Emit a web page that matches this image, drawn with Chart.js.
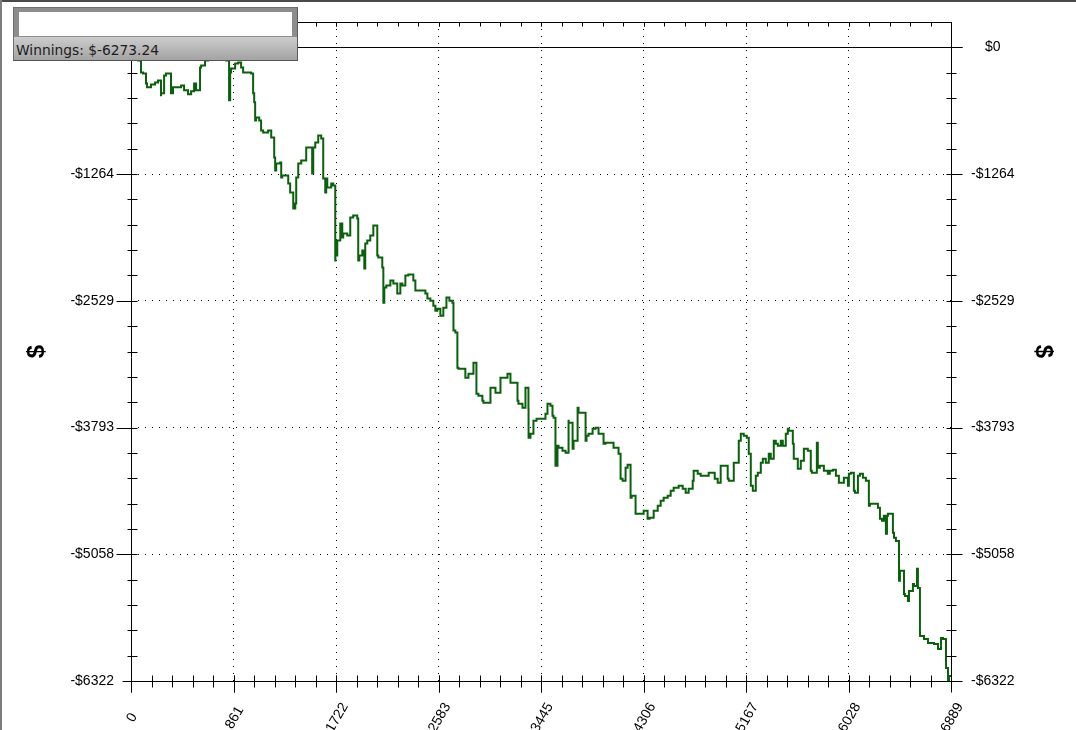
<!DOCTYPE html>
<html>
<head>
<meta charset="utf-8">
<title>Winnings</title>
<script src="https://cdn.jsdelivr.net/npm/chart.js@4.4.1/dist/chart.umd.min.js"></script>
<style>
    html, body { margin: 0; padding: 0; background: #fff; overflow: hidden; }
    #wrap { position: relative; width: 1076px; height: 730px; }
    #graph { position: absolute; left: 0; top: 0; }
    .edgeTop { position: absolute; left: 0; top: 0; width: 1076px; height: 2px; background: #4a4a4a; }
    .edgeLeft { position: absolute; left: 0; top: 0; width: 2px; height: 730px; background: #7d7d7d; }
    #winBox {
        position: absolute; left: 13px; top: 7px; width: 285px; height: 54px;
        box-sizing: border-box; background: #8d8d8d; border: 1px solid #6e6e6e;
        border-right-color: #5a5a5a; border-bottom-color: #555;
    }
    #winInput { position: absolute; left: 5px; top: 4px; width: 273px; height: 24px; background: #fff; }
    #winText {
        position: absolute; left: 0; top: 29px; width: 283px; height: 23px; overflow: hidden;
        background: linear-gradient(#cdcdcd, #a3a3a3);
        font: 13.8px "DejaVu Sans", sans-serif; color: #1c1c1c;
        line-height: 27px; padding-left: 2px; box-sizing: border-box;
    }
</style>
</head>
<body>
<div id="wrap">
    <canvas id="graph" width="1076" height="730"></canvas>
    <div class="edgeTop"></div>
    <div class="edgeLeft"></div>
    <div id="winBox">
        <div id="winInput"></div>
        <div id="winText"></div>
    </div>
</div>
<script>
"use strict";

// hand number (x) and running winnings in $ (y)
const handNo = [
    0, 34, 59, 84, 101, 126, 135, 168, 202, 227, 252, 253, 278, 294, 336, 353, 370, 421, 446, 479,
    505, 530, 547, 580, 589, 622, 648, 681, 749, 799, 824, 833, 841, 875, 900, 925, 942, 984, 1009, 1026,
    1035, 1043, 1051, 1077, 1093, 1110, 1152, 1178, 1203, 1211, 1220, 1253, 1262, 1270, 1295, 1321, 1337, 1363, 1380, 1388,
    1405, 1430, 1472, 1489, 1522, 1531, 1548, 1573, 1598, 1615, 1632, 1640, 1649, 1665, 1682, 1699, 1716, 1717, 1733, 1758,
    1775, 1783, 1817, 1842, 1867, 1901, 1909, 1918, 1943, 1960, 1968, 1985, 2010, 2036, 2052, 2069, 2078, 2111, 2120, 2128,
    2145, 2179, 2204, 2237, 2263, 2280, 2305, 2330, 2372, 2389, 2406, 2473, 2490, 2515, 2540, 2557, 2574, 2599, 2624, 2650,
    2675, 2700, 2709, 2725, 2742, 2751, 2784, 2809, 2835, 2877, 2902, 2919, 2952, 2961, 3020, 3037, 3062, 3104, 3121, 3163,
    3188, 3205, 3247, 3255, 3289, 3314, 3339, 3340, 3356, 3381, 3407, 3440, 3482, 3499, 3524, 3541, 3550, 3566, 3583, 3592,
    3625, 3651, 3676, 3677, 3710, 3718, 3752, 3760, 3794, 3819, 3827, 3844, 3878, 3903, 3928, 3970, 3987, 4012, 4054, 4096,
    4113, 4130, 4155, 4172, 4197, 4206, 4239, 4248, 4307, 4340, 4357, 4391, 4425, 4450, 4475, 4509, 4534, 4559, 4601, 4635,
    4660, 4685, 4719, 4727, 4761, 4786, 4828, 4853, 4887, 4904, 4929, 4954, 4971, 5013, 5022, 5064, 5081, 5106, 5123, 5148,
    5173, 5190, 5207, 5224, 5249, 5266, 5291, 5308, 5333, 5358, 5375, 5400, 5417, 5434, 5459, 5476, 5501, 5518, 5526, 5560,
    5568, 5602, 5627, 5653, 5686, 5711, 5720, 5762, 5770, 5787, 5821, 5854, 5871, 5896, 5922, 5947, 5964, 5989, 6023, 6031,
    6048, 6073, 6082, 6107, 6124, 6149, 6174, 6199, 6208, 6233, 6275, 6292, 6309, 6325, 6342, 6351, 6359, 6384, 6401, 6410,
    6426, 6452, 6460, 6477, 6494, 6502, 6527, 6536, 6569, 6578, 6603, 6611, 6628, 6629, 6662, 6696, 6721, 6746, 6780, 6805,
    6822, 6847, 6864, 6872, 6889
];

const winnings = [
    0, -30, -90, -130, -250, -260, -360, -399, -370, -350, -330, -479, -459, -280, -260, -459, -399, -399, -380, -429,
    -469, -439, -360, -429, -200, -180, -130, -50, -30, -80, -130, -529, -250, -210, -160, -150, -200, -250, -250, -260,
    -459, -549, -729, -699, -729, -829, -849, -829, -899, -1099, -1228, -1158, -1149, -1298, -1278, -1278, -1358, -1448, -1608, -1558,
    -1298, -1158, -1129, -999, -999, -1258, -999, -949, -879, -909, -1308, -1448, -1308, -1398, -1398, -1358, -1378, -2127, -2077, -1927,
    -1758, -1898, -1858, -1878, -1698, -1678, -1708, -2127, -2077, -2027, -2207, -1957, -1927, -1878, -1778, -1778, -2077, -2097, -2197, -2547,
    -2397, -2377, -2327, -2357, -2457, -2357, -2377, -2277, -2267, -2327, -2427, -2427, -2457, -2507, -2527, -2577, -2627, -2607, -2677, -2597,
    -2497, -2527, -2547, -2826, -2846, -3196, -3206, -3206, -3296, -3256, -3146, -3455, -3475, -3525, -3545, -3396, -3396, -3446, -3296, -3296,
    -3256, -3346, -3346, -3525, -3555, -3595, -3396, -3605, -3895, -3855, -3725, -3705, -3705, -3655, -3555, -3575, -3675, -3695, -4175, -3975,
    -3995, -4025, -4045, -3725, -3745, -4005, -3925, -3595, -3645, -3645, -3925, -3875, -3855, -3805, -3795, -3855, -3955, -3945, -3945, -3995,
    -4055, -4304, -4324, -4194, -4164, -4494, -4474, -4654, -4654, -4624, -4704, -4694, -4624, -4574, -4524, -4494, -4474, -4424, -4394, -4374,
    -4404, -4444, -4404, -4324, -4224, -4254, -4274, -4274, -4244, -4244, -4304, -4344, -4174, -4174, -4304, -4324, -4144, -4144, -3925, -3855,
    -3875, -3895, -4055, -4374, -4424, -4274, -4244, -4144, -4105, -4144, -4055, -4105, -3925, -3955, -3975, -3925, -3975, -3855, -3805, -3825,
    -3955, -4105, -4204, -4125, -4005, -4025, -4224, -4244, -3945, -4194, -4174, -4224, -4254, -4224, -4214, -4274, -4344, -4344, -4294, -4374,
    -4254, -4244, -4424, -4444, -4274, -4254, -4294, -4324, -4574, -4554, -4554, -4594, -4704, -4724, -4674, -4854, -4674, -4654, -4654, -4844,
    -4894, -4924, -5323, -5223, -5223, -5453, -5473, -5523, -5423, -5353, -5373, -5203, -5393, -5842, -5872, -5902, -5942, -5942, -5952, -6002,
    -5892, -5902, -6192, -6322, -6273.24
];

// major ticks and their labels
const xTickValues = [0, 861.125, 1722.25, 2583.375, 3444.5, 4305.625, 5166.75, 6027.875, 6889];
const xTickLabels = ["0", "861", "1722", "2583", "3445", "4306", "5167", "6028", "6889"];
const yTickValues = [0, -1264.4, -2528.8, -3793.2, -5057.6, -6322];
const yTickLabels = ["$0", "-$1264", "-$2529", "-$3793", "-$5058", "-$6322"];
const yTopValue = 252.88;      // one minor step above $0
const minorPerMajor = 5;

const lineColor = "#0a600c";
const labelFont = { family: "'Liberation Sans', Arial, sans-serif", size: 14 };
const titleFont = { family: "'Liberation Sans', Arial, sans-serif", size: 24, weight: "bold" };

document.getElementById("winText").textContent =
    "Winnings: $" + winnings[winnings.length - 1].toFixed(2);

// keep the plot box where the scales say, not where label padding pushes it
function fixBox(size) {
    return scale => {
        if (scale.isHorizontal()) {
            scale.height = size;
        } else {
            scale.width = size;
            scale.paddingTop = 0;
            scale.paddingBottom = 0;
        }
    };
}

// rotated labels hang from their end; pad short ones so they sit centred on the tick
function xLabel(value, index) {
    const text = xTickLabels[index];
    return text + " ".repeat(4 - text.length);
}

// axis frame, tick marks and the solid $0 line
const axisFrame = {
    id: "axisFrame",
    afterDatasetsDraw(chart) {
        const { ctx, chartArea: area } = chart;
        const xs = chart.scales.x;
        const ys = chart.scales.y;
        const snap = v => Math.round(v) + 0.5;
        const L = snap(area.left), R = snap(area.right);
        const T = snap(area.top), B = snap(area.bottom);

        ctx.save();
        ctx.strokeStyle = "#000";
        ctx.lineWidth = 1;
        const seg = (x1, y1, x2, y2) => {
            ctx.beginPath();
            ctx.moveTo(x1, y1);
            ctx.lineTo(x2, y2);
            ctx.stroke();
        };

        seg(L, T, L, B + 11);
        seg(R, T, R, B + 10);
        seg(L, T, R, T);
        seg(L - 9, B, R + 11, B);

        const zeroY = snap(ys.getPixelForValue(0));
        seg(L - 15, zeroY, R + 11, zeroY);

        // y ticks (major + minor) on both sides
        for (let i = 0; i < yTickValues.length - 1; i++) {
            const a = yTickValues[i], b = yTickValues[i + 1];
            for (let k = 0; k < minorPerMajor; k++) {
                const py = snap(ys.getPixelForValue(a + (b - a) * k / minorPerMajor));
                if (k === 0) {
                    seg(L - 15, py, L + 6, py);
                    seg(R - 5, py, R + 11, py);
                } else {
                    seg(L - 4, py, L + 6, py);
                    seg(R - 5, py, R + 5, py);
                }
            }
        }

        // x ticks (major + minor), bottom and top
        for (let i = 0; i < xTickValues.length - 1; i++) {
            const a = xTickValues[i], b = xTickValues[i + 1];
            for (let k = 0; k <= minorPerMajor; k++) {
                const px = snap(xs.getPixelForValue(a + (b - a) * k / minorPerMajor));
                if (k === 0 || k === minorPerMajor) {
                    seg(px, B - 6, px, B + 11);
                } else {
                    seg(px, B - 6, px, B + 6);
                }
                seg(px, T, px, T + 4);
            }
        }
        ctx.restore();
    }
};

new Chart(document.getElementById("graph"), {
    type: "line",
    data: {
        datasets: [{
            label: "Winnings",
            data: handNo.map((h, i) => ({ x: h, y: winnings[i] })),
            borderColor: lineColor,
            borderWidth: 2,
            pointRadius: 0,
            stepped: "after",
            fill: false
        }]
    },
    options: {
        responsive: false,
        animation: false,
        devicePixelRatio: 1,
        layout: { padding: { top: 22, left: 0, right: 0, bottom: 0 } },
        plugins: {
            legend: { display: false },
            tooltip: { enabled: false }
        },
        scales: {
            x: {
                type: "linear",
                position: "bottom",
                min: 0,
                max: 6889,
                afterFit: fixBox(49),
                afterBuildTicks: s => { s.ticks = xTickValues.map(v => ({ value: v })); },
                grid: { color: "#000", lineWidth: 1, drawTicks: false },
                border: { display: false, dash: [1, 6] },
                ticks: {
                    autoSkip: false,
                    minRotation: 60,
                    maxRotation: 60,
                    padding: 19,
                    labelOffset: 9,
                    color: "#000",
                    font: labelFont,
                    callback: xLabel
                }
            },
            y: {
                type: "linear",
                position: "left",
                min: -6322,
                max: yTopValue,
                afterFit: fixBox(131),
                afterBuildTicks: s => { s.ticks = yTickValues.map(v => ({ value: v })); },
                grid: { color: "#000", lineWidth: 1, drawTicks: false },
                border: { display: false, dash: [1, 6] },
                title: {
                    display: true,
                    text: "$",
                    color: "#000",
                    font: titleFont,
                    padding: { top: 23, bottom: 0 }
                },
                ticks: {
                    padding: 17,
                    color: "#000",
                    font: labelFont,
                    callback: (v, i) => yTickLabels[i]
                }
            },
            y2: {
                type: "linear",
                position: "right",
                min: -6322,
                max: yTopValue,
                afterFit: fixBox(125),
                afterBuildTicks: s => { s.ticks = yTickValues.map(v => ({ value: v })); },
                grid: { drawOnChartArea: false, drawTicks: false },
                border: { display: false },
                title: {
                    display: true,
                    text: "$",
                    color: "#000",
                    font: titleFont,
                    padding: { top: 19, bottom: 0 }
                },
                ticks: {
                    padding: 20,
                    crossAlign: "center",
                    color: "#000",
                    font: labelFont,
                    callback: (v, i) => yTickLabels[i]
                }
            }
        }
    },
    plugins: [axisFrame]
});
</script>
</body>
</html>
